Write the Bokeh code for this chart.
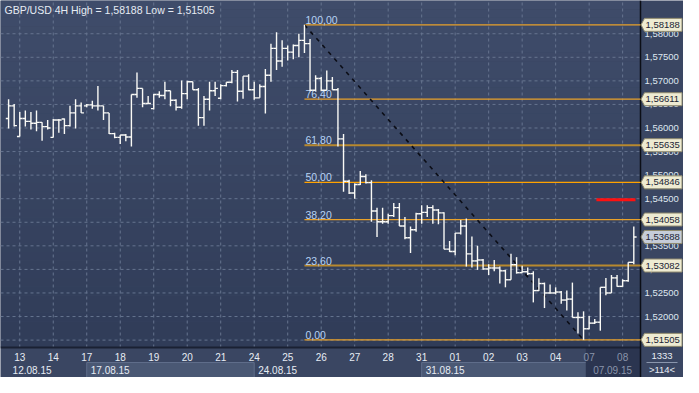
import numpy as np
from bokeh.plotting import figure
from bokeh.models import Range1d, ColumnDataSource
from bokeh.core.properties import value
from bokeh.embed import file_html
from bokeh.resources import INLINE

# ---------------- data (GBP/USD 4H) ----------------
opens = [1.5620, 1.5647, 1.5582, 1.5620, 1.5614, 1.5610, 1.5612, 1.5603, 1.5580, 1.5617,
         1.5619, 1.5605, 1.5632, 1.5647, 1.5647, 1.5649, 1.5647, 1.5647, 1.5632, 1.5588,
         1.5580, 1.5585, 1.5581, 1.5671, 1.5684, 1.5652, 1.5641, 1.5671, 1.5669, 1.5679,
         1.5659, 1.5644, 1.5673, 1.5698, 1.5681, 1.5622, 1.5661, 1.5679, 1.5663, 1.5690,
         1.5697, 1.5718, 1.5678, 1.5710, 1.5681, 1.5664, 1.5688, 1.5712, 1.5769, 1.5742,
         1.5769, 1.5761, 1.5775, 1.5786, 1.5779, 1.5680, 1.5705, 1.5680, 1.5700, 1.5681,
         1.5577, 1.5487, 1.5462, 1.5480, 1.5497, 1.5484, 1.5424, 1.5401, 1.5401, 1.5414,
         1.5431, 1.5392, 1.5367, 1.5384, 1.5418, 1.5421, 1.5431, 1.5426, 1.5420, 1.5343,
         1.5338, 1.5377, 1.5392, 1.5333, 1.5318, 1.5320, 1.5301, 1.5303, 1.5303, 1.5297,
         1.5278, 1.5310, 1.5293, 1.5295, 1.5291, 1.5255, 1.5270, 1.5250, 1.5250, 1.5252,
         1.5235, 1.5237, 1.5198, 1.5198, 1.5174, 1.5186, 1.5188, 1.5262, 1.5250, 1.5282,
         1.5264, 1.5276, 1.5315]
highs = [1.5661, 1.5651, 1.5634, 1.5637, 1.5634, 1.5637, 1.5612, 1.5617, 1.5619, 1.5619,
         1.5620, 1.5647, 1.5661, 1.5654, 1.5651, 1.5658, 1.5689, 1.5647, 1.5632, 1.5590,
         1.5585, 1.5587, 1.5671, 1.5718, 1.5684, 1.5668, 1.5672, 1.5678, 1.5698, 1.5679,
         1.5661, 1.5701, 1.5700, 1.5698, 1.5685, 1.5668, 1.5698, 1.5698, 1.5693, 1.5697,
         1.5723, 1.5723, 1.5710, 1.5714, 1.5698, 1.5693, 1.5725, 1.5779, 1.5803, 1.5786,
         1.5775, 1.5777, 1.5800, 1.58188, 1.5789, 1.5712, 1.5708, 1.5722, 1.5708, 1.5685,
         1.5587, 1.5490, 1.5482, 1.5509, 1.5502, 1.5489, 1.5431, 1.5431, 1.5418, 1.5441,
         1.5441, 1.5411, 1.5391, 1.5420, 1.5436, 1.5436, 1.5436, 1.5428, 1.5421, 1.5360,
         1.5377, 1.5405, 1.5408, 1.5370, 1.5350, 1.5322, 1.5311, 1.5320, 1.5306, 1.5299,
         1.5333, 1.5326, 1.5308, 1.5304, 1.5296, 1.5281, 1.5272, 1.5268, 1.5262, 1.5254,
         1.5255, 1.5272, 1.5209, 1.5211, 1.5201, 1.5195, 1.5262, 1.5282, 1.5288, 1.5288,
         1.5279, 1.5315, 1.5391]
lows = [1.5599, 1.5603, 1.5582, 1.5603, 1.5597, 1.5593, 1.5573, 1.5597, 1.5580, 1.5590,
        1.5587, 1.5603, 1.5599, 1.5632, 1.5644, 1.5641, 1.5637, 1.5617, 1.5587, 1.5578,
        1.5566, 1.5572, 1.5561, 1.5664, 1.5644, 1.5651, 1.5639, 1.5664, 1.5661, 1.5646,
        1.5637, 1.5641, 1.5661, 1.5681, 1.5605, 1.5605, 1.5637, 1.5668, 1.5661, 1.5688,
        1.5695, 1.5656, 1.5662, 1.5680, 1.5660, 1.5664, 1.5631, 1.5698, 1.5723, 1.5730,
        1.5743, 1.5746, 1.5750, 1.5759, 1.5678, 1.5678, 1.5678, 1.5680, 1.5681, 1.5561,
        1.5465, 1.5460, 1.5450, 1.5479, 1.5482, 1.5401, 1.5369, 1.5397, 1.5397, 1.5411,
        1.5392, 1.5364, 1.5335, 1.5380, 1.5397, 1.5411, 1.5397, 1.5396, 1.5343, 1.5337,
        1.5330, 1.5374, 1.5306, 1.5304, 1.5299, 1.5299, 1.5288, 1.5296, 1.5270, 1.5262,
        1.5278, 1.5291, 1.5293, 1.5288, 1.5230, 1.5254, 1.5218, 1.5249, 1.5247, 1.5227,
        1.5213, 1.5198, 1.5164, 1.51505, 1.5173, 1.5184, 1.5170, 1.5245, 1.5250, 1.5263,
        1.5263, 1.5274, 1.5311]
closes = [1.5647, 1.5605, 1.5620, 1.5614, 1.5610, 1.5612, 1.5603, 1.5600, 1.5617, 1.5617,
          1.5605, 1.5632, 1.5647, 1.5632, 1.5649, 1.5647, 1.5647, 1.5632, 1.5588, 1.5580,
          1.5585, 1.5581, 1.5671, 1.5684, 1.5652, 1.5652, 1.5671, 1.5669, 1.5679, 1.5659,
          1.5644, 1.5673, 1.5698, 1.5681, 1.5622, 1.5661, 1.5679, 1.5684, 1.5690, 1.5697,
          1.5718, 1.5678, 1.5710, 1.5681, 1.5664, 1.5688, 1.5712, 1.5769, 1.5742, 1.5769,
          1.5761, 1.5775, 1.5786, 1.5779, 1.5680, 1.5705, 1.5680, 1.5700, 1.5681, 1.5577,
          1.5487, 1.5462, 1.5480, 1.5497, 1.5484, 1.5424, 1.5401, 1.5401, 1.5414, 1.5431,
          1.5392, 1.5367, 1.5384, 1.5418, 1.5421, 1.5431, 1.5426, 1.5420, 1.5343, 1.5338,
          1.5377, 1.5392, 1.5333, 1.5318, 1.5320, 1.5301, 1.5303, 1.5303, 1.5297, 1.5278,
          1.5310, 1.5293, 1.5295, 1.5291, 1.5255, 1.5270, 1.5250, 1.5250, 1.5252, 1.5235,
          1.5237, 1.5198, 1.5198, 1.5174, 1.5186, 1.5188, 1.5262, 1.5250, 1.5282, 1.5264,
          1.5276, 1.5315, 1.53688]

day_labels = ["13", "14", "17", "18", "19", "20", "21", "24", "25", "26",
              "27", "28", "31", "01", "02", "03", "04", "07", "08"]
day_start_bar = [2, 8, 14, 20, 26, 32, 38, 44, 50, 56, 62, 68, 74, 80, 86, 92, 98, 104, 110]
week_labels = ["12.08.15", "17.08.15", "24.08.15", "31.08.15", "07.09.15"]
week_start_bar = [0, 14, 44, 74, 104]
price_ticks = [1.515, 1.52, 1.525, 1.53, 1.535, 1.54, 1.545, 1.55, 1.555, 1.56,
               1.565, 1.57, 1.575, 1.58]

swing_high = 1.58188
swing_low = 1.51505
swing_high_bar = 53
swing_low_bar = 103
fib_pct = [100.0, 76.4, 61.8, 50.0, 38.2, 23.6, 0.0]
fib_names = ["100,00", "76,40", "61,80", "50,00", "38,20", "23,60", "0,00"]
red_level = 1.5448
red_from_bar = 105.3
red_to_bar = 112.3
last_price = 1.53688
title_text = "GBP/USD 4H High = 1,58188 Low = 1,51505"
corner_top, corner_bottom = "1333", ">114<"

n = len(opens)
assert len(highs) == n and len(lows) == n and len(closes) == n

# ---------------- layout ----------------
W, H = 683, 377
RIGHT, BOTTOM = 43, 30
FW, FH = W - RIGHT, H - BOTTOM           # chart area in pixels
X0, X1 = -1.45, 113.2                     # chart area in bar units
Y0, Y1 = 1.51343, 1.58705                 # chart area in price
PX = (X1 - X0) / FW                       # bar units per pixel
PY = (Y1 - Y0) / FH                       # price per pixel
XR = X1 + RIGHT * PX
YB = Y0 - BOTTOM * PY
FONT = value("Liberation Sans")
FS = "9.5px"
TXT = "#e6ecf4"
PANEL = "#3a4662"

p = figure(width=W, height=H, output_backend="svg", toolbar_location=None,
           x_range=Range1d(X0, XR), y_range=Range1d(YB, Y1),
           x_axis_location=None, y_axis_location=None,
           min_border=0)
p.outline_line_color = None
p.grid.visible = False
p.background_fill_color = PANEL
p.border_fill_color = PANEL

# vertical gradient background of the chart area
nb = 40
edges = np.linspace(Y0, Y1, nb + 1)
top_c = np.array([0x3f, 0x4c, 0x6a])
bot_c = np.array([0x30, 0x3c, 0x58])
cols = []
for j in range(nb):
    t = (j + 0.5) / nb
    c = bot_c + (top_c - bot_c) * t
    cols.append("#%02x%02x%02x" % tuple(int(round(v)) for v in c))
p.quad(left=X0, right=X1, bottom=edges[:-1], top=edges[1:],
       fill_color=cols, line_color=None)

# grid (dashed)
grid_col = "#66748f"
p.segment(x0=[X0] * len(price_ticks), y0=price_ticks, x1=[X1] * len(price_ticks), y1=price_ticks,
          line_color=grid_col, line_dash="3 3", line_width=1)
p.segment(x0=day_start_bar, y0=[Y0] * len(day_start_bar), x1=day_start_bar, y1=[Y1] * len(day_start_bar),
          line_color=grid_col, line_dash="3 3", line_width=1)

# bottom time axis: bands, separators, labels
row2_top = Y0 - 15 * PY
p.quad(left=[week_start_bar[1], week_start_bar[3]], right=[week_start_bar[2], week_start_bar[4]],
       bottom=[YB, YB], top=[row2_top, row2_top],
       fill_color="#4a5874", line_color="#5f6d8a", line_width=1)
p.quad(left=[week_start_bar[4] - 0.6], right=[X1], bottom=[YB], top=[Y0],
       fill_color="#2b3550", line_color=None)
p.segment(x0=[X0], y0=[Y0], x1=[X1], y1=[Y0], line_color="#1a2133", line_width=2)
day_cols = [TXT if b < week_start_bar[-1] else "#8994aa" for b in day_start_bar]
p.text(x=day_start_bar, y=[Y0 - 9 * PY] * len(day_start_bar), text=day_labels,
       text_font=FONT, text_font_size="10px", text_color=day_cols,
       text_align="center", text_baseline="middle")
week_cols = [TXT if b < week_start_bar[-1] else "#8994aa" for b in week_start_bar]
p.text(x=week_start_bar, y=[Y0 - 22.5 * PY] * len(week_start_bar), text=week_labels,
       text_font=FONT, text_font_size="10px", text_color=week_cols,
       text_align="left", text_baseline="middle", x_offset=4)

# right price axis
p.segment(x0=[X1], y0=[YB], x1=[X1], y1=[Y1], line_color="#0b0e16", line_width=1.5)
p.text(x=[X1] * len(price_ticks), y=price_ticks,
       text=[("%.5f" % t).replace(".", ",") for t in price_ticks],
       text_font=FONT, text_font_size=FS, text_color="#dfe6f0",
       text_align="left", text_baseline="middle", x_offset=4)

# corner box
xc = (X1 + XR) / 2
p.text(x=[xc, xc], y=[Y0 - 8 * PY, Y0 - 22 * PY], text=[corner_top, corner_bottom],
       text_font=FONT, text_font_size=FS, text_color=TXT,
       text_align="center", text_baseline="middle")
p.segment(x0=[X1 + 6 * PX], y0=[Y0 - 15 * PY], x1=[XR - 6 * PX], y1=[Y0 - 15 * PY],
          line_color="#8a96ad", line_width=1)

# fibonacci levels
fib_prices = [swing_low + f / 100.0 * (swing_high - swing_low) for f in fib_pct]
fib_colors = ["#e9a12a", "#e9a12a", "#b8892e", "#ffa200", "#e9a12a", "#b8892e", "#e9a12a"]
fib_widths = [1.2, 1.2, 2, 1.4, 1.2, 2, 1.2]
p.segment(x0=[swing_high_bar] * len(fib_prices), y0=fib_prices,
          x1=[X1] * len(fib_prices), y1=fib_prices,
          line_color=fib_colors, line_width=fib_widths)
p.text(x=[swing_high_bar] * len(fib_prices), y=fib_prices, text=fib_names,
       text_font=FONT, text_font_size="10.5px", text_color="#b6d2f4",
       text_baseline="bottom", x_offset=1, y_offset=-1)

# trend line from swing high to swing low
p.line([swing_high_bar, swing_low_bar], [swing_high, swing_low],
       line_color="#0b0d16", line_width=1.6, line_dash="4 5")

# OHLC bars
k = np.arange(n)
src = ColumnDataSource(dict(k=k, km=k - 0.5, kp=k + 0.5, o=opens, h=highs, l=lows, c=closes))
bar_col = "#fafaf6"
p.segment(x0="k", y0="l", x1="k", y1="h", source=src, line_color=bar_col, line_width=1.4)
p.segment(x0="km", y0="o", x1="k", y1="o", source=src, line_color=bar_col, line_width=1.4)
p.segment(x0="k", y0="c", x1="kp", y1="c", source=src, line_color=bar_col, line_width=1.4)

# red horizontal line
p.segment(x0=[red_from_bar], y0=[red_level], x1=[red_to_bar], y1=[red_level],
          line_color="#ff1010", line_width=3)

# title
p.text(x=[X0], y=[Y1], text=[title_text], text_font=FONT, text_font_size="10.5px",
       text_color=TXT, text_baseline="top", text_align="left", x_offset=4, y_offset=3)

# price callouts on the right axis
callouts = fib_prices + [last_price]
fills = ["#eeebd2"] * len(fib_prices) + ["#c6cdd9"]
xs, ys = [], []
for pr in callouts:
    xs.append([X1 + 0.5 * PX, X1 + 4 * PX, XR - 1.5 * PX, XR - 1.5 * PX, X1 + 4 * PX])
    ys.append([pr, pr + 6.5 * PY, pr + 6.5 * PY, pr - 6.5 * PY, pr - 6.5 * PY])
p.patches(xs, ys, fill_color=fills, line_color="#8f8a6e", line_width=1)
p.text(x=[X1] * len(callouts), y=callouts,
       text=[("%.5f" % c).replace(".", ",") for c in callouts],
       text_font=FONT, text_font_size=FS, text_color="#1b2434",
       text_align="left", text_baseline="middle", x_offset=5)

open("out.html", "w").write(file_html(p, INLINE))
